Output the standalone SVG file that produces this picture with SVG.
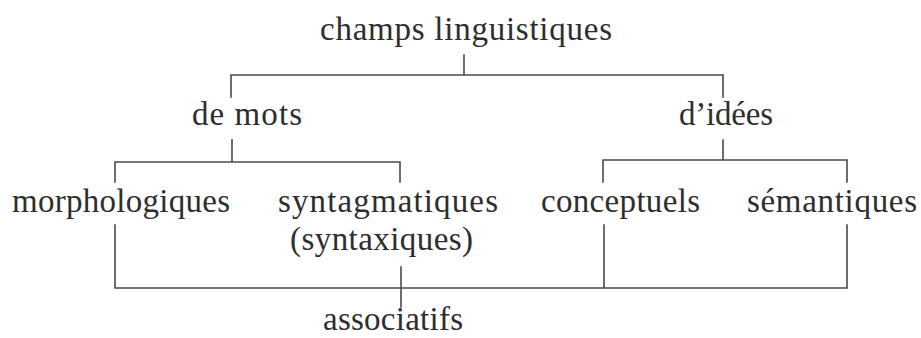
<svg xmlns="http://www.w3.org/2000/svg" width="921" height="338" viewBox="0 0 921 338">
<style>
  .t { font-family: "Liberation Serif", "DejaVu Serif", serif; font-size: 33px; fill: #2e2e2e; }
  .c { stroke: #4a4a4a; stroke-width: 1.6; fill: none; stroke-linecap: square; }
</style>
<rect width="921" height="338" fill="#ffffff"/>
<g id="connectors" class="c">
  <path d="M464 55 V75 M231 97 V75 H723 V97"/>
  <path d="M232 140 V162 M115 182 V162 H400 V182"/>
  <path d="M723 140 V160 M603 182 V160 H847 V182"/>
  <path d="M115 225 V288 M401 267 V288 M604 225 V288 M847 225 V288 M115 288 H847 M401 288 V307"/>
</g>
<g id="champs"><text class="t" x="320" y="40" textLength="292" lengthAdjust="spacing">champs linguistiques</text></g>
<g id="mots"><text class="t" x="192" y="125" textLength="110" lengthAdjust="spacing">de mots</text></g>
<g id="idees"><text class="t" x="679" y="125" textLength="94" lengthAdjust="spacing">d’idées</text></g>
<g id="morphologiques"><text class="t" x="12" y="212" textLength="218" lengthAdjust="spacing">morphologiques</text></g>
<g id="syntagmatiques">
  <text class="t" x="278" y="212" textLength="220" lengthAdjust="spacing">syntagmatiques</text>
  <text class="t" x="290" y="250" textLength="183" lengthAdjust="spacing">(syntaxiques)</text>
</g>
<g id="conceptuels"><text class="t" x="541" y="212" textLength="159" lengthAdjust="spacing">conceptuels</text></g>
<g id="semantiques"><text class="t" x="747" y="212" textLength="170" lengthAdjust="spacing">sémantiques</text></g>
<g id="associatifs"><text class="t" x="323" y="330" textLength="140" lengthAdjust="spacing">associatifs</text></g>
</svg>
